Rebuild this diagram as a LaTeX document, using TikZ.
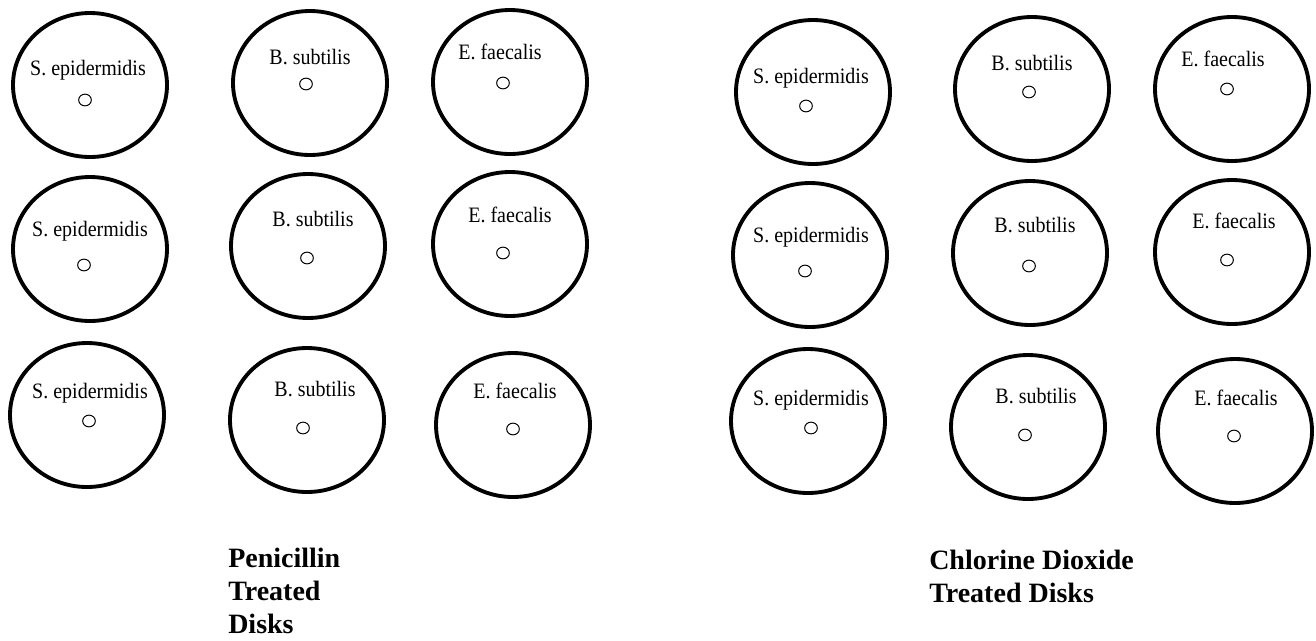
\documentclass[tikz,border=0pt]{standalone}
\usepackage{fontspec}
\setmainfont{Liberation Serif}
\usepackage{graphicx}
\usetikzlibrary{shapes.geometric}
\tikzset{
  plate/.style={draw=black, ellipse, line width=2.9pt, minimum width=115.5pt, minimum height=108pt, inner sep=0pt},
  hole/.style={draw=black, ellipse, line width=0.75pt, minimum width=9.5pt, minimum height=8.8pt, inner sep=0pt},
  lab/.style={anchor=base, inner sep=0pt, font=\fontsize{15pt}{18pt}\selectfont},
  ttl/.style={anchor=north west, inner sep=0pt, align=left, font=\fontsize{21pt}{24.75pt}\selectfont\bfseries}
}
\begin{document}
\begin{tikzpicture}[x=0.75pt,y=-0.75pt]
\useasboundingbox (0,0) rectangle (1316,640);
\foreach \n/\x/\y/\lx/\ly/\dx/\dy/\t in {
  a/90/85/88/68/85/100/S. epidermidis,
  b/310/83/310/57/306/84/B. subtilis,
  c/510/82/500/52/503/83/E. faecalis,
  d/90/249/90/229/84/265/S. epidermidis,
  e/308/246/313/219/307/258/B. subtilis,
  f/510/244/510/215/503/253/E. faecalis,
  g/87/415/90/391/89/421/S. epidermidis,
  h/307/420/315/389/303/428/B. subtilis,
  i/513/425/515/391/513/429/E. faecalis,
  j/813/92/811/76/806/106/S. epidermidis,
  k/1032/89/1032/63/1029/92/B. subtilis,
  l/1232/89/1223/59/1227/89/E. faecalis,
  m/810/255/811/235/805/271/S. epidermidis,
  n/1030/253/1035/225/1029/266/B. subtilis,
  o/1232/252/1234/221/1227/260/E. faecalis,
  p/808/421/811/398/811/428/S. epidermidis,
  q/1028/427/1036/396/1025/435/B. subtilis,
  r/1235/431/1236/398/1234/436/E. faecalis}
{
  \node[plate] (p\n) at (\x,\y) {};
  \node[lab] (l\n) at (\lx,\ly+7) {\scalebox{1}[1.1]{\t}};
  \node[hole] (h\n) at (\dx,\dy) {};
}
\node[ttl] (t1) at (228,548) {Penicillin\\Treated\\Disks};
\node[ttl] (t2) at (929,550) {Chlorine Dioxide\\Treated Disks};
\end{tikzpicture}
\end{document}
